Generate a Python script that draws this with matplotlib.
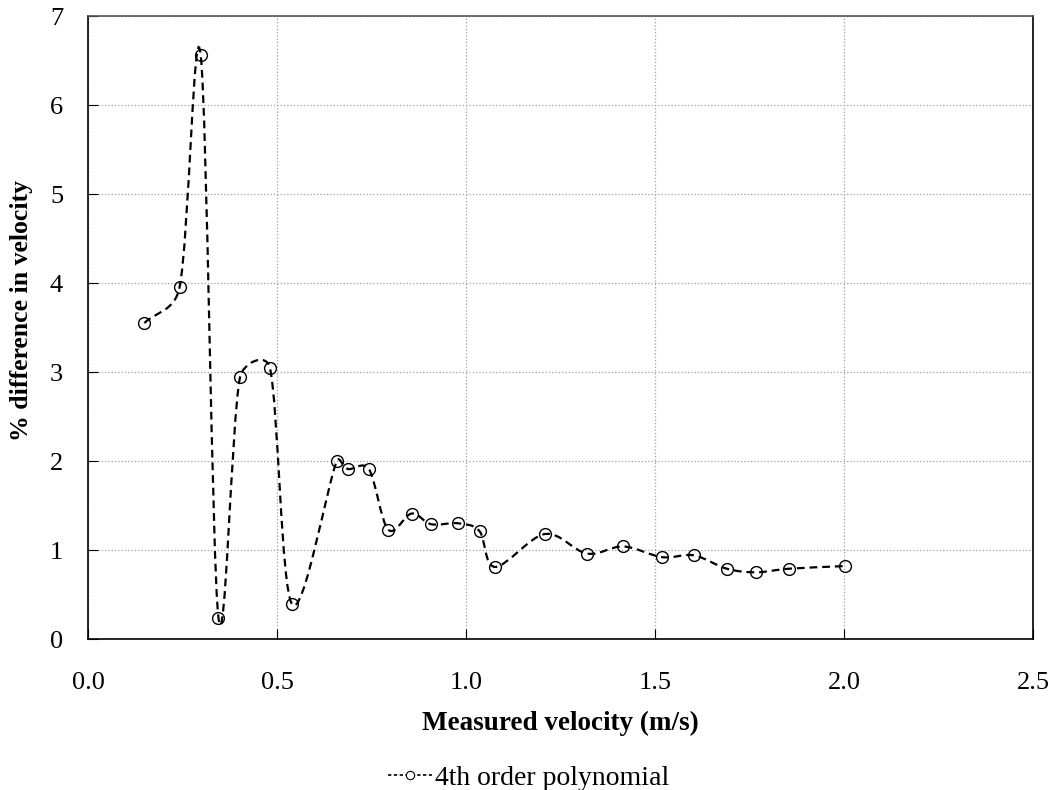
import numpy as np
import matplotlib
matplotlib.use("Agg")
import matplotlib.pyplot as plt
from matplotlib.path import Path
from matplotlib.patches import PathPatch
from matplotlib.lines import Line2D

# measured velocity (m/s) and % difference
velocity = [0.149, 0.242, 0.298, 0.345, 0.402, 0.481, 0.540, 0.658, 0.688, 0.743,
            0.794, 0.856, 0.908, 0.980, 1.036, 1.077, 1.209, 1.320, 1.416, 1.519,
            1.603, 1.690, 1.768, 1.854, 2.003]
pct_diff = [3.55, 3.95, 6.56, 0.24, 2.94, 3.05, 0.39, 2.00, 1.91, 1.91,
            1.23, 1.41, 1.29, 1.30, 1.21, 0.81, 1.18, 0.96, 1.04, 0.92,
            0.94, 0.79, 0.75, 0.79, 0.82]
series_label = "4th order polynomial"

plt.rcParams['font.family'] = ['Liberation Serif', 'DejaVu Serif']

fig = plt.figure(figsize=(10.57, 7.9), dpi=100)
ax = fig.add_axes([0.0833, 0.1911, 0.894, 0.7886])
ax.set_xlim(0, 2.5)
ax.set_ylim(0, 7)


def smooth_path(ax, xs, ys):
    # spreadsheet-style smoothed line: Bezier segments, control arms 1/6 of the
    # neighbour chord but never longer than half the segment (in screen space)
    pix = ax.transData.transform(np.column_stack([xs, ys]))
    n = len(pix)
    verts = [pix[0]]
    codes = [Path.MOVETO]
    for i in range(n - 1):
        p1, p2 = pix[i], pix[i + 1]
        p0 = pix[i - 1] if i > 0 else None
        p3 = pix[i + 2] if i + 2 < n else None
        half = np.linalg.norm(p2 - p1) / 2
        t1 = (p2 - p0) / 6 if p0 is not None else (p2 - p1) / 3
        t2 = (p3 - p1) / 6 if p3 is not None else (p2 - p1) / 3
        if np.linalg.norm(t1) > half:
            t1 = t1 / np.linalg.norm(t1) * half
        if np.linalg.norm(t2) > half:
            t2 = t2 / np.linalg.norm(t2) * half
        verts += [p1 + t1, p2 - t2, p2]
        codes += [Path.CURVE4] * 3
    data_verts = ax.transData.inverted().transform(np.array(verts))
    return Path(data_verts, codes)


patch = PathPatch(smooth_path(ax, velocity, pct_diff), fill=False, edgecolor='black',
                  linewidth=1.6, linestyle=(0, (3.5, 2.2)), zorder=3)
ax.add_patch(patch)
ax.plot(velocity, pct_diff, linestyle='none', marker='o', markersize=8.5,
        markerfacecolor='none', markeredgecolor='black', markeredgewidth=1.0, zorder=4)

ax.set_xticks(np.arange(0, 2.51, 0.5))
ax.set_yticks(np.arange(0, 8, 1))
ax.set_xticklabels([f"{v:.1f}" for v in np.arange(0, 2.51, 0.5)])
ax.grid(True, color='#a0a0a0', linestyle=':', linewidth=0.9)
ax.tick_params(axis='x', direction='in', length=7, pad=24, labelsize=19)
ax.tick_params(axis='y', direction='in', length=7, pad=18, labelsize=19)
for s in ax.spines.values():
    s.set_color('black')
    s.set_linewidth(1.2)
ax.spines['top'].set_color('#555555')

ax.set_xlabel("Measured velocity (m/s)", fontsize=19.5, fontweight='bold', labelpad=12)
ax.set_ylabel("% difference in velocity", fontsize=18.5, fontweight='bold')
ax.yaxis.set_label_coords(-0.058, 0.527)

handle = Line2D([], [], color='black', linestyle=(0, (2, 1.5)), linewidth=1.2,
                marker='o', markersize=6, markerfacecolor='white', markeredgecolor='black',
                markeredgewidth=0.8)
fig.legend([handle], [series_label], loc='center', bbox_to_anchor=(0.5, 0.015),
           frameon=False, fontsize=20, handlelength=1.6, handletextpad=0.1)

fig.savefig("out.png", dpi=100)
